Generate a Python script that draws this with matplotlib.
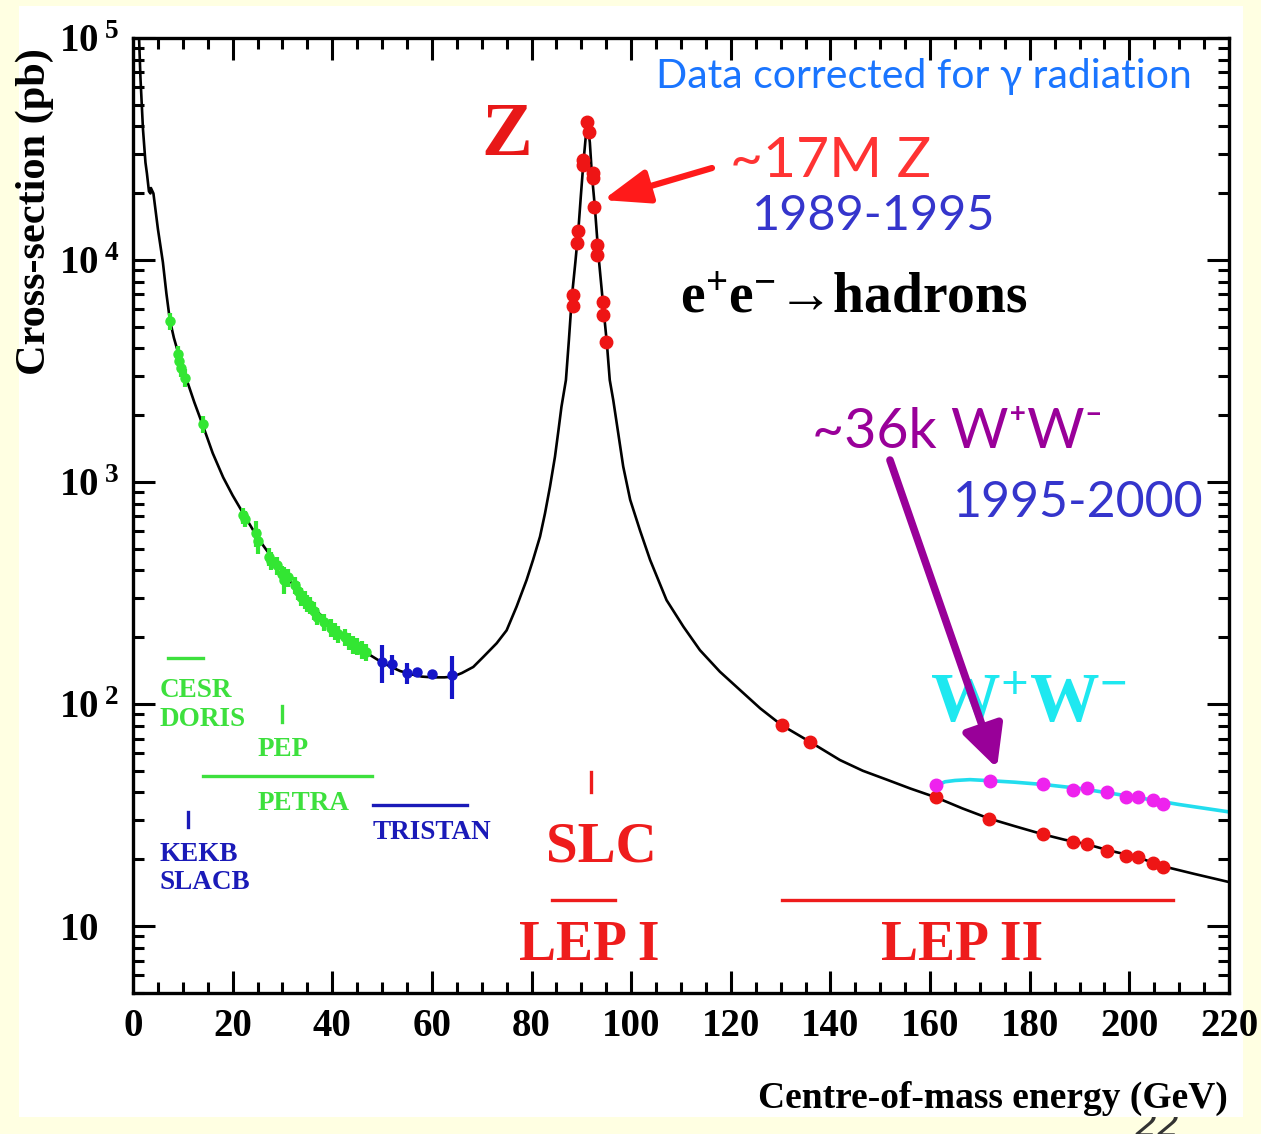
import matplotlib
matplotlib.use('Agg')
import matplotlib.pyplot as plt
from matplotlib.patches import Rectangle
from matplotlib.ticker import FixedLocator, MultipleLocator, LogLocator, NullFormatter, FixedFormatter

plt.rcParams['font.family'] = ['Liberation Serif', 'DejaVu Serif']
plt.rcParams['font.weight'] = 'bold'
plt.rcParams['mathtext.fontset'] = 'custom'
plt.rcParams['mathtext.rm'] = 'Liberation Serif:bold'
plt.rcParams['mathtext.bf'] = 'Liberation Serif:bold'
plt.rcParams['mathtext.it'] = 'Liberation Serif:bold'
plt.rcParams['mathtext.sf'] = 'Liberation Serif:bold'

# ---------------- data ----------------
# theory curve e+e- -> hadrons (GeV, pb)
CURVE_X = [1.15, 1.5, 2.0, 2.5, 2.8, 3.2, 3.5, 3.6, 4.1, 5.0, 6.0, 6.7, 7.4, 8.2, 9.1,
           9.9, 10.8, 12.3, 14.1, 16.0, 18.1, 20.0, 22.1, 25.0, 28.2, 30.8, 33.5, 36.8,
           40.1, 43.5, 46.9, 50.2, 53.6, 56.0, 58.0, 60.2, 62.5, 64.2, 66.0, 68.3, 70.3,
           73.0, 75.0, 77.0, 79.0, 80.3, 81.7, 82.7, 83.7, 84.7, 85.4, 86.0, 86.9, 87.5,
           88.1, 88.8, 89.4, 89.9, 90.4, 90.9, 91.3, 91.7, 92.1, 92.7, 93.4, 94.4, 95.1,
           95.7, 96.4, 97.4, 98.4, 99.8, 101.8, 103.8, 107.1, 110.5, 113.8, 117.8, 121.8,
           125.9, 130.2, 135.9, 141.9, 146.5, 151.3, 156.0, 161.2, 166.5, 171.9, 177.0,
           182.7, 187.0, 191.4, 196.0, 201.5, 206.8, 213.0, 220.0]
CURVE_Y = [110000, 66000, 38900, 27500, 24500, 20400, 19950, 21100, 19950, 13800, 9770,
           7080, 5370, 4470, 3800, 3310, 2880, 2290, 1780, 1350, 1050, 871, 724, 562, 447,
           376, 316, 263, 224, 193, 170, 153, 141, 136, 133, 132, 132, 133, 138, 147, 163,
           188, 215, 275, 362, 446, 568, 723, 953, 1300, 1710, 2180, 2880, 4370, 6840,
           9800, 13650, 19500, 27300, 36300, 39800, 33900, 24500, 17400, 10700, 6170, 4270,
           2880, 2340, 1660, 1175, 832, 603, 446, 294, 223, 175, 140, 116, 95.7, 80.4,
           67.6, 56.0, 50.1, 45.7, 41.7, 38.0, 33.9, 30.5, 28.2, 25.9, 24.5, 23.4, 21.9,
           20.5, 18.6, 17.2, 15.8]

# W+W- expectation curve (cyan)
WW_CURVE_X = [161.5, 163, 165, 168, 172, 177, 183, 190, 200, 210, 220]
WW_CURVE_Y = [43.2, 44.7, 45.3, 45.7, 45.2, 44.5, 43.4, 41.7, 38.5, 35.3, 32.7]

# LEP I (Z peak) measurements
Z_X = [91.2, 91.6, 90.3, 90.3, 92.4, 92.4, 92.6, 89.4, 89.2, 93.2, 93.2, 88.4, 88.3,
       94.3, 94.3, 95.0]
Z_Y = [42000, 37800, 28200, 26800, 24700, 23300, 17300, 13550, 11970, 11700, 10540,
       6950, 6210, 6490, 5650, 4290]

# LEP II hadronic measurements (red)
LEP2_X = [130.2, 135.9, 161.2, 171.9, 182.7, 188.7, 191.4, 195.6, 199.4, 201.8, 204.8, 206.8]
LEP2_Y = [80.4, 67.6, 38.2, 30.5, 25.9, 24.0, 23.4, 21.8, 20.7, 20.5, 19.3, 18.5]

# LEP II W+W- measurements (magenta)
WW_X = [161.2, 172.0, 182.7, 188.7, 191.4, 195.6, 199.4, 201.8, 204.8, 206.8]
WW_Y = [43.2, 45.2, 43.7, 41.0, 41.7, 40.3, 38.2, 38.2, 37.0, 35.5]

# low-energy data (CESR, DORIS, PEP, PETRA) - green
GREEN_X = [7.4, 9.0, 9.3, 9.6, 10.4, 14.0, 22.0, 22.4, 24.6, 25.0, 27.3, 27.7, 28.9,
           29.9, 30.4, 31.2, 32.6, 33.2, 33.8, 34.5, 35.0, 35.5, 36.3, 37.0, 38.3, 39.8,
           40.5, 41.2, 42.5, 43.3, 44.2, 45.0, 46.0, 46.8]
GREEN_Y = [5310, 3760, 3510, 3270, 2950, 1820, 708, 684, 589, 543, 462, 442, 422, 385,
           363, 372, 343, 324, 305, 295, 285, 279, 263, 248, 234, 221, 214, 207, 200,
           193, 186, 182, 176, 172]
GREEN_ERR = [480, 340, 320, 300, 270, 160, 60, 55, 80, 70, 45, 40, 40, 35, 50, 35, 30,
             30, 28, 27, 26, 25, 24, 22, 21, 20, 19, 18, 18, 17, 17, 16, 16, 15]

# TRISTAN data - blue
BLUE_X = [50.0, 52.0, 55.0, 57.0, 60.0, 64.0]
BLUE_Y = [155, 151, 138, 140, 136, 135]
BLUE_ERR = [30, 16, 15, 6, 6, 30]

# axis ticks
X_TICKS = [0, 20, 40, 60, 80, 100, 120, 140, 160, 180, 200, 220]
Y_TICKS = [10, 100, 1000, 10000, 100000]
Y_TICK_LABELS = [r'$10$', r'$10^{\;5}$'.replace('5', '2'), r'$10^{\;3}$', r'$10^{\;4}$',
                 r'$10^{\;5}$']

# ---------------- figure ----------------
W, H = 1261, 1134
fig = plt.figure(figsize=(W / 100, H / 100), dpi=100, facecolor='#FFFFE2')
fig.add_artist(Rectangle((19 / W, 1 - 1117 / H), (1243 - 19) / W, (1117 - 6) / H,
                         transform=fig.transFigure, facecolor='white', edgecolor='none',
                         zorder=-0.5))
fig.text(1158 / W, 1 - 1126 / H, '22', fontsize=26, color='#333333', ha='center',
         va='center', family='DejaVu Sans', fontweight='normal', style='italic', zorder=-1)

ax = fig.add_axes([133 / W, 1 - 993 / H, (1229 - 133) / W, (993 - 38) / H])
ax.set_facecolor('none')
ax.set_xlim(0, 220)
ax.set_yscale('log')
ax.set_ylim(5.0, 1e5)

def P(px, py):
    """pixel position of the reference -> data coordinates (for annotations)"""
    return (px - 133) / 4.982, 10 ** (5 - (py - 38) / 222.0)

# curves and data
ax.plot(CURVE_X, CURVE_Y, color='black', lw=1.9, zorder=2, solid_joinstyle='round')
ax.plot(WW_CURVE_X, WW_CURVE_Y, color='#22DDEE', lw=2.6, zorder=2)
ax.errorbar(GREEN_X, GREEN_Y, yerr=GREEN_ERR, fmt='o', color='#33E633', ms=6.5,
            elinewidth=3, capsize=0, zorder=3)
ax.errorbar(BLUE_X, BLUE_Y, yerr=BLUE_ERR, fmt='o', color='#1515C8', ms=6.5,
            elinewidth=3, capsize=0, zorder=3)
ax.plot(Z_X, Z_Y, 'o', color='#EE1515', ms=9, zorder=4)
ax.plot(LEP2_X, LEP2_Y, 'o', color='#EE1515', ms=9, zorder=4)
ax.plot(WW_X, WW_Y, 'o', color='#EE22EE', ms=9, zorder=4)

# ticks
ax.xaxis.set_major_locator(FixedLocator(X_TICKS))
ax.xaxis.set_minor_locator(MultipleLocator(5))
ax.yaxis.set_major_locator(FixedLocator(Y_TICKS))
ax.yaxis.set_major_formatter(FixedFormatter(Y_TICK_LABELS))
ax.yaxis.set_minor_locator(LogLocator(base=10, subs=range(2, 10)))
ax.yaxis.set_minor_formatter(NullFormatter())
ax.tick_params(which='both', direction='in', top=True, right=True, width=2.2, color='black')
ax.tick_params(which='major', length=16)
ax.tick_params(which='minor', length=8)
ax.tick_params(axis='x', which='major', pad=11, labelsize=28)
ax.tick_params(axis='y', which='major', pad=53, labelsize=28)
for lab in ax.get_yticklabels():
    lab.set_horizontalalignment('left')
for s in ax.spines.values():
    s.set_linewidth(2.4)

# axis labels
fig.text(35 / W, 1 - 212 / H, 'Cross-section (pb)', rotation=90, fontsize=30.5,
         ha='center', va='center')
fig.text(1228 / W, 1 - 1108 / H, 'Centre-of-mass energy (GeV)', fontsize=27,
         ha='right', va='baseline')

# accelerator labels & ranges
green = '#3DE03D'
blue = '#1A1AB8'
red = '#EE1C1C'
ax.plot([7.0, 14.05], [P(0, 658)[1]] * 2, color=green, lw=2.4)
ax.plot([29.9, 29.9], [P(0, 706)[1], P(0, 722)[1]], color=green, lw=2.4)
ax.plot([14.05, 48.0], [P(0, 776)[1]] * 2, color=green, lw=2.4)
ax.plot([11.0, 11.0], [P(0, 812)[1], P(0, 827)[1]], color=blue, lw=2.4)
ax.plot([48.2, 67.0], [P(0, 805)[1]] * 2, color=blue, lw=2.4)
ax.plot([92.0, 92.0], [P(0, 772)[1], P(0, 792)[1]], color=red, lw=2.4)
ax.plot([84.1, 96.7], [P(0, 900)[1]] * 2, color=red, lw=2.4)
ax.plot([130.3, 208.8], [P(0, 900)[1]] * 2, color=red, lw=2.4)

acc = dict(fontsize=19.5, va='baseline', ha='left')
ax.text(*P(160, 697), 'CESR', color=green, **acc)
ax.text(*P(160, 726), 'DORIS', color=green, **acc)
ax.text(*P(258, 756), 'PEP', color=green, **acc)
ax.text(*P(258, 810), 'PETRA', color=green, **acc)
ax.text(*P(160, 861), 'KEKB', color=blue, **acc)
ax.text(*P(160, 889), 'SLACB', color=blue, **acc)
ax.text(*P(373, 839), 'TRISTAN', color=blue, **acc)
ax.text(*P(601, 861), 'SLC', color=red, fontsize=41, ha='center', va='baseline')
ax.text(*P(589, 960), 'LEP I', color=red, fontsize=40, ha='center', va='baseline')
ax.text(*P(962, 960), 'LEP II', color=red, fontsize=40, ha='center', va='baseline')

# big labels
ax.text(*P(507, 155), 'Z', color='#E81818', fontsize=55, ha='center', va='baseline')
ax.text(*P(930, 722), 'W$^{+}$W$^{-}$', color='#1EE8F0', fontsize=50, ha='left',
        va='baseline')
ax.text(*P(680, 312), 'e$^{+}$e$^{-}$→hadrons', color='black', fontsize=40, ha='left',
        va='baseline')

sans = ['Lato', 'DejaVu Sans']
ax.text(*P(1192, 88), 'Data corrected for γ radiation', color='#1A75FF', fontsize=29.5,
        family=sans, fontweight='normal', ha='right', va='baseline')
ax.text(*P(730, 177), '~17M Z', color='#FF3333', fontsize=41, family=sans,
        fontweight='normal', ha='left', va='baseline')
ax.text(*P(752, 230), '1989-1995', color='#3535CC', fontsize=35, family=sans,
        fontweight='normal', ha='left', va='baseline')
ax.text(*P(812, 448), '~36k W⁺W⁻', color='#990099', fontsize=40, family=sans,
        fontweight='normal', ha='left', va='baseline')
ax.text(*P(953, 517), '1995-2000', color='#3535CC', fontsize=36, family=sans,
        fontweight='normal', ha='left', va='baseline')

# arrows
ax.annotate('', xy=P(603, 200), xytext=P(712, 168),
            arrowprops=dict(arrowstyle='-|>,head_length=0.7,head_width=0.26',
                            color='#FF1A1A', lw=4.5, mutation_scale=40,
                            shrinkA=0, shrinkB=0))
ax.annotate('', xy=P(997, 768), xytext=P(890, 460),
            arrowprops=dict(arrowstyle='-|>,head_length=0.6,head_width=0.3',
                            color='#990099', lw=5.5, mutation_scale=42,
                            shrinkA=0, shrinkB=0))

fig.savefig('out.png', dpi=100, facecolor=fig.get_facecolor())
